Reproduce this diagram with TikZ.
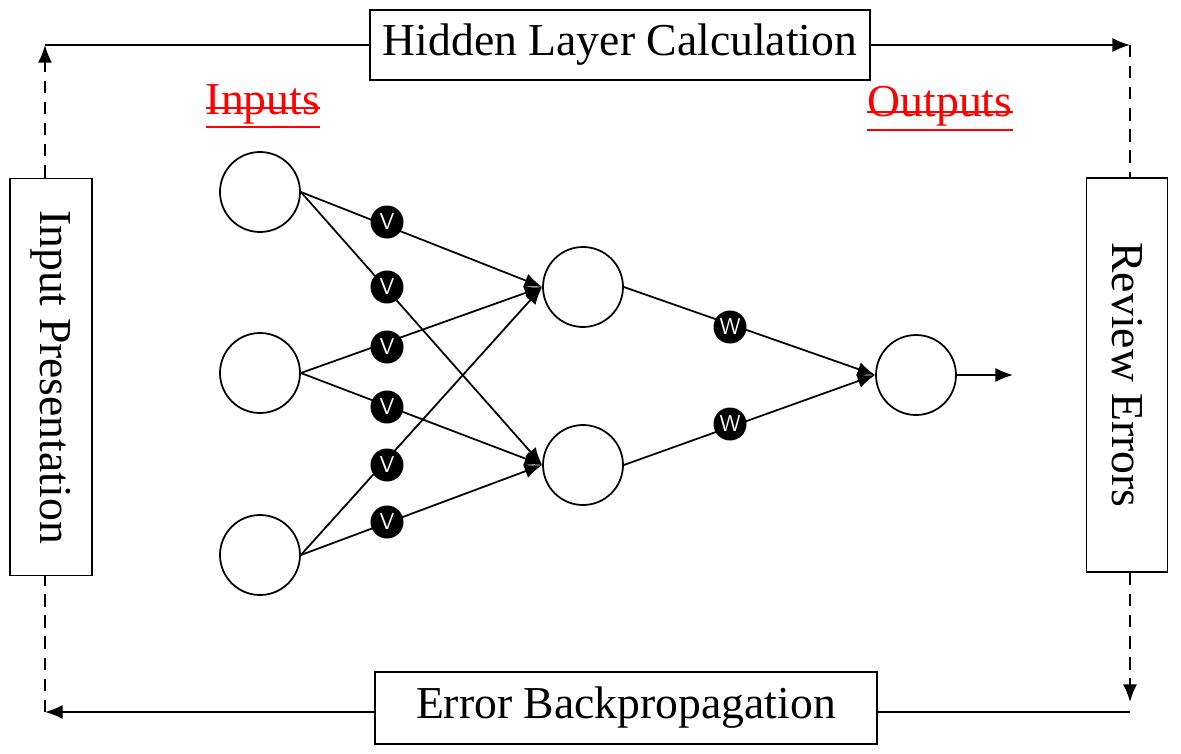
\documentclass[tikz,border=0pt]{standalone}
\usepackage{fontspec}
\setmainfont{Liberation Serif}
\usetikzlibrary{arrows.meta}
\begin{document}
\begin{tikzpicture}[x=0.02cm,y=-0.02cm,
  box/.style={draw,line width=1.1pt,inner sep=0pt},
  neu/.style={draw,circle,minimum size=80*0.02cm,inner sep=0pt,line width=1pt},
  wt/.style={circle,fill=black,text=white,minimum size=33*0.02cm,inner sep=0pt,font=\fontsize{13}{13}\sffamily},
  ln/.style={line width=1pt},
  arr/.style={ln,-{Latex[length=10pt,width=8pt]}},
  dsh/.style={ln,dash pattern=on 7pt off 5pt},
  lbl/.style={font=\fontsize{26}{26}\selectfont}]
\useasboundingbox (0,0) rectangle (1181,754);
\node[box,minimum width=500*0.02cm,minimum height=70*0.02cm,lbl] (top) at (620,45) {Hidden Layer Calculation};
\node[box,minimum width=502*0.02cm,minimum height=72*0.02cm,lbl] (bot) at (626,708) {Error Backpropagation};
\node[box,minimum width=397*0.02cm,minimum height=82*0.02cm,lbl,rotate=-90] (lb) at (51,377) {Input Presentation};
\node[box,minimum width=394*0.02cm,minimum height=81*0.02cm,lbl,rotate=-90] (rb) at (1127,375) {Review Errors};
\coordinate (tl) at (45,45); \coordinate (tr) at (1130,45);
\coordinate (bl) at (45,712); \coordinate (br) at (1130,712);
\draw[ln] (top.west) -- (tl);
\draw[dsh,-{Latex[length=10pt,width=8pt]}] (lb.west -| tl) -- (tl);
\draw[arr] (top.east) -- (tr);
\draw[dsh] (tr) -- (rb.west -| tr);
\draw[arr] (bot.west |- bl) -- (bl);
\draw[dsh] (bl) -- (lb.east -| bl);
\draw[dsh,-{Latex[length=10pt,width=8pt]}] (rb.east -| br) -- (1130,702);
\draw[ln] (bot.east |- br) -- (br);
% labels
\node[text=red,lbl,inner sep=0pt] (inp) at (263,104) {Inputs};
\draw[red,line width=0.9pt] (inp.west |- 0,108) -- (inp.east |- 0,108);
\draw[red,line width=0.9pt] (inp.west |- 0,127) -- (inp.east |- 0,127);
\node[text=red,lbl,inner sep=0pt] (outp) at (940,106) {Outputs};
\draw[red,line width=0.9pt] (outp.west |- 0,112) -- (outp.east |- 0,112);
\draw[red,line width=0.9pt] (outp.west |- 0,130) -- (outp.east |- 0,130);
% neurons
\node[neu] (i1) at (260,192) {};
\node[neu] (i2) at (260,373) {};
\node[neu] (i3) at (260,555) {};
\node[neu] (h1) at (583,287) {};
\node[neu] (h2) at (583,465) {};
\node[neu] (o) at (916,375) {};
\coordinate (oe) at (1013,375);
\draw[arr] (i1.east) -- (h1.west);
\draw[arr] (i1.east) -- (h2.west);
\draw[arr] (i2.east) -- (h1.west);
\draw[arr] (i2.east) -- (h2.west);
\draw[arr] (i3.east) -- (h1.west);
\draw[arr] (i3.east) -- (h2.west);
\draw[arr] (h1.east) -- (o.west);
\draw[arr] (h2.east) -- (o.west);
\draw[arr] (o.east) -- (oe);
\foreach \n/\y in {1/222,2/287,3/347,4/407,5/465,6/522}
  \node[wt] (v\n) at (387,\y) {V};
\node[wt] (w1) at (730,327) {W};
\node[wt] (w2) at (730,424) {W};
\end{tikzpicture}
\end{document}
